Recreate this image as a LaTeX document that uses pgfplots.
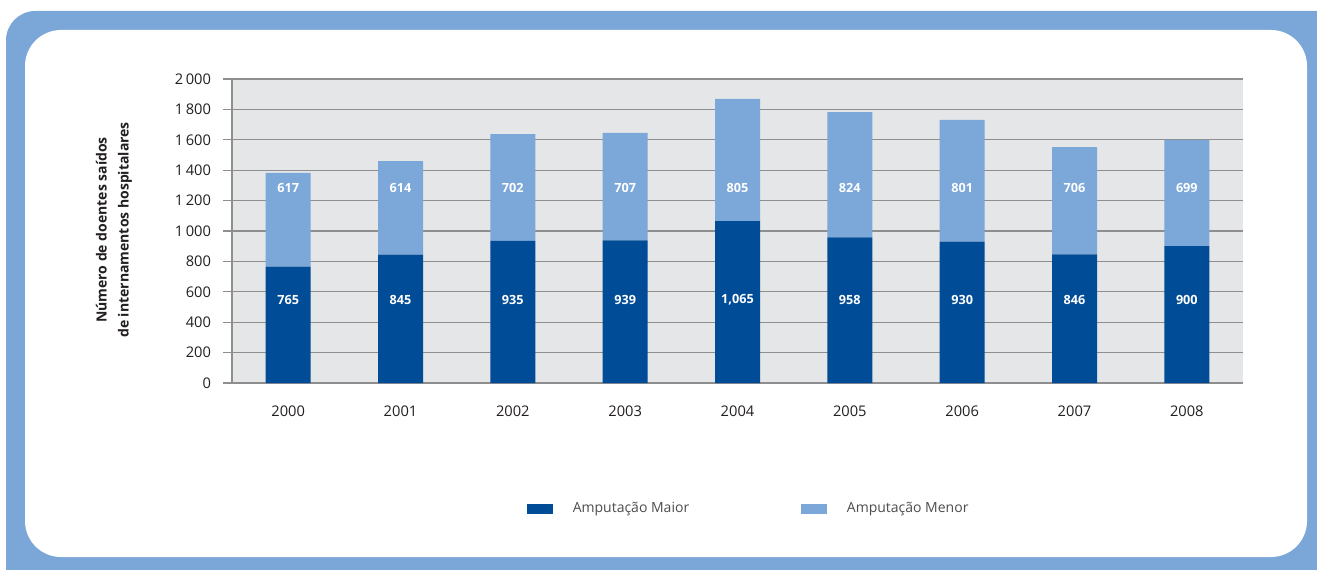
\documentclass[border=0pt]{standalone}
\usepackage{pgfplots}
\pgfplotsset{compat=1.18}
\usepackage{pgfplotstable}
\usepackage{fontspec}
\setmainfont{Open Sans}
\definecolor{frameblue}{HTML}{7BA6D8}
\definecolor{darkbar}{HTML}{004C97}
\definecolor{lightbar}{HTML}{7BA7D9}
\definecolor{plotbg}{HTML}{E5E6E8}
\definecolor{gridc}{HTML}{8E8E8E}
\definecolor{txt}{HTML}{231F20}
\definecolor{legtxt}{HTML}{4D4D4D}

\pgfplotstableread{
x year maior menor
0 2000 765 617
1 2001 845 614
2 2002 935 702
3 2003 939 707
4 2004 1065 805
5 2005 958 824
6 2006 930 801
7 2007 846 706
8 2008 900 699
}\data

\pgfplotstableread{
x y label
0 549 765
1 549 845
2 549 935
3 549 939
4 549 1,065
5 549 958
6 549 930
7 549 846
8 549 900
}\labmaior

\pgfplotstableread{
x y label
0 1284 617
1 1284 614
2 1284 702
3 1284 707
4 1284 805
5 1284 824
6 1284 801
7 1284 706
8 1284 699
}\labmenor

\begin{document}
\begin{tikzpicture}
\useasboundingbox (0,0) rectangle (987.75pt,426.75pt);
\clip (0,0) rectangle (987.75pt,426.75pt);
% frame
\fill[frameblue, rounded corners=22pt] (4.5pt,-30pt) rectangle (1010pt,418.5pt);
\fill[white, rounded corners=27pt] (18.75pt,9pt) rectangle (980.25pt,404.25pt);

\pgfplotsset{
  commonaxis/.style={
    at={(174pt,139.5pt)}, anchor=south west,
    width=758.25pt, height=228pt, scale only axis,
    xmin=-0.5, xmax=8.5, ymin=0, ymax=2000,
  }
}

\begin{axis}[
  commonaxis,
  ybar stacked, bar width=33.75pt,
  axis background/.style={fill=plotbg},
  axis x line=bottom, axis y line=left,
  axis line style={gridc, line width=0.8pt, -},
  ymajorgrids, grid style={gridc, line width=0.8pt},
  ytick={0,200,...,2000},
  yticklabels={0,200,400,600,800,1\,000,1\,200,1\,400,1\,600,1\,800,2\,000},
  xtick={0,...,8},
  xticklabels={2000,2001,2002,2003,2004,2005,2006,2007,2008},
  xtick style={draw=none},
  major tick length=6.75pt,
  ytick style={gridc, line width=0.8pt},
  tick align=outside,
  extra x ticks={-0.5,0.5,...,8.5},
  extra x tick labels={},
  extra x tick style={tick style={draw=gridc, line width=0.8pt}, major tick length=6pt},
  ticklabel style={font=\fontsize{11}{13}\selectfont, text=txt},
  yticklabel style={xshift=-5.5pt},
  xticklabel style={yshift=-7pt},
  legend style={at={(0.5115,-0.414)}, anchor=center, draw=none, fill=none,
    font=\fontsize{10.5}{13}\selectfont, text=legtxt,
    /tikz/every odd column/.append style={column sep=12.75pt},
    /tikz/every even column/.append style={column sep=82pt}},
  legend columns=2,
  legend image code/.code={\fill[#1] (0pt,-3.75pt) rectangle (19.5pt,3.75pt);},
]
\addplot[fill=darkbar, draw=none] table[x=x, y=maior] {\data};
\addlegendentry{Amputação Maior}
\addplot[fill=lightbar, draw=none] table[x=x, y=menor] {\data};
\addlegendentry{Amputação Menor}
\end{axis}

\begin{axis}[
  commonaxis, hide axis,
]
\addplot[draw=none, nodes near coords, point meta=explicit symbolic,
  nodes near coords style={text=white, font=\bfseries\fontsize{9.5}{11}\selectfont, anchor=center}]
  table[x=x, y=y, meta=label] {\labmaior};
\addplot[draw=none, nodes near coords, point meta=explicit symbolic,
  nodes near coords style={text=white, font=\bfseries\fontsize{9.5}{11}\selectfont, anchor=center}]
  table[x=x, y=y, meta=label] {\labmenor};
\end{axis}

\node[rotate=90, align=center, text=txt, font=\bfseries\fontsize{10.5}{16.5}\selectfont]
  at (85.5pt,254.25pt) {Número de doentes saídos\\de internamentos hospitalares};
\end{tikzpicture}
\end{document}
